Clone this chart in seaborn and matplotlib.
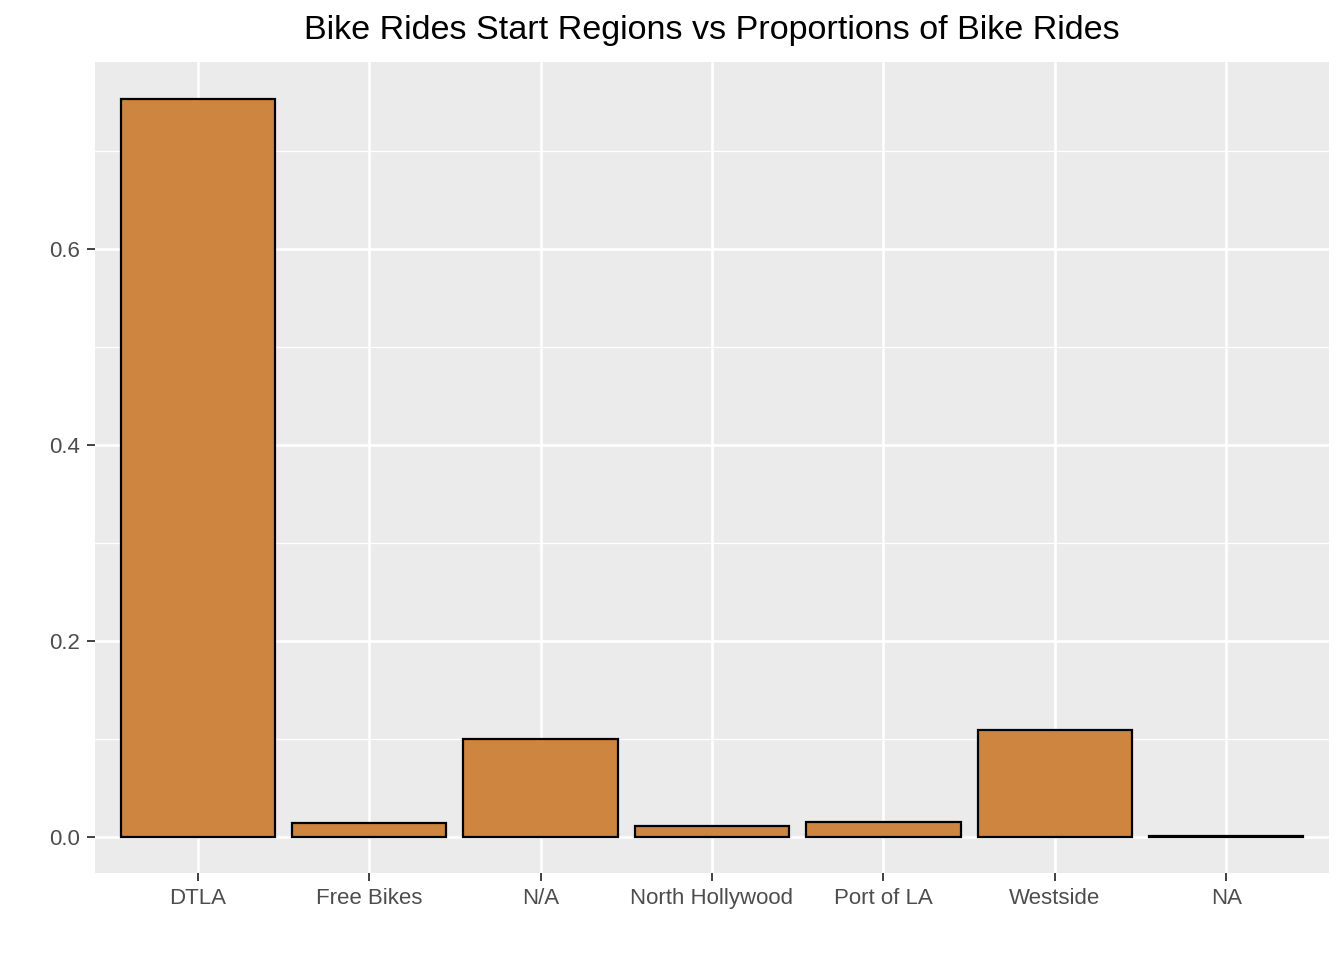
import matplotlib
matplotlib.use("Agg")
import matplotlib.pyplot as plt
import seaborn as sns
import pandas as pd
from matplotlib.ticker import MultipleLocator

regions = ["DTLA", "Free Bikes", "N/A", "North Hollywood", "Port of LA", "Westside", "NA"]
proportions = [0.753, 0.0143, 0.100, 0.0115, 0.0153, 0.109, 0.0006]

df = pd.DataFrame({"region": regions, "prop": proportions})

sns.set_theme(style="darkgrid")
plt.rcParams["font.family"] = ["Liberation Sans", "DejaVu Sans"]

fig = plt.figure(figsize=(13.44, 9.6), dpi=100)
ax = fig.add_axes([95 / 1344, 1 - 873 / 960, (1329 - 95) / 1344, (873 - 62) / 960])

sns.barplot(data=df, x="region", y="prop", order=regions, color="#CD853F",
            saturation=1, edgecolor="black", linewidth=1.6, width=0.9, ax=ax, zorder=3)

ax.set_facecolor("#EBEBEB")
ax.set_xlim(-0.6, 6.6)
ax.set_ylim(-0.0367, 0.7907)
ax.yaxis.set_minor_locator(MultipleLocator(0.1))
ax.set_yticks([0, 0.2, 0.4, 0.6])
ax.set_yticklabels(["0.0", "0.2", "0.4", "0.6"])
ax.grid(which="major", color="white", linewidth=1.9, zorder=0)
ax.grid(which="minor", axis="y", color="white", linewidth=0.9, zorder=0)
ax.set_axisbelow(True)
for s in ax.spines.values():
    s.set_visible(False)

ax.tick_params(axis="both", which="major", bottom=True, left=True, length=6, width=1.3,
               color="#333333", labelsize=16, labelcolor="#4D4D4D", pad=5, direction="out")
ax.tick_params(axis="both", which="minor", length=0)
ax.set_xlabel("")
ax.set_ylabel("")

fig.text((95 + 1329) / 2 / 1344, 1 - 30 / 960,
         "Bike Rides Start Regions vs Proportions of Bike Rides",
         ha="center", va="center", fontsize=24.6, color="black")

fig.savefig("out.png", dpi=100, facecolor="white")
